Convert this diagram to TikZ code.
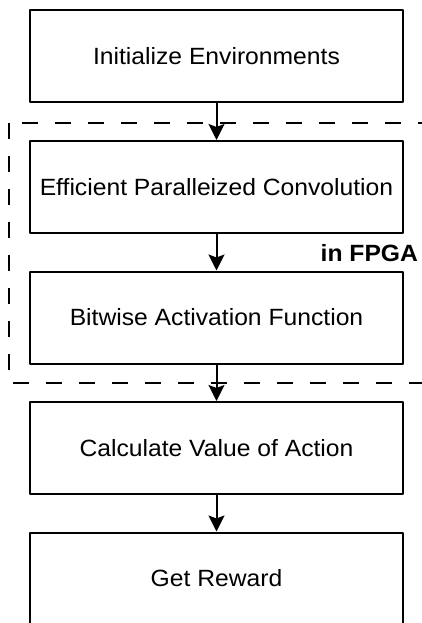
\documentclass[tikz,border=0pt]{standalone}
\usepackage{fontspec}
\setmainfont{Liberation Sans}[FakeStretch=1.05]
\usetikzlibrary{positioning,arrows.meta}

\begin{document}
\begin{tikzpicture}[x=1pt,y=-1pt,line join=round,>={Stealth[length=16pt,width=16pt,inset=3pt]},line width=2pt]
			\tikzset{stepbox/.style={draw,minimum width=373pt,minimum height=92pt,inner sep=0pt,font=\fontsize{23.5}{28}\selectfont},
				node distance=36.5pt}
			\useasboundingbox (0,0) rectangle (422,623);
			\node[stepbox] (init) at (216.5,56.5) {Initialize Environments};
			\node[stepbox,below=of init] (conv) {Efficient Paralleized Convolution};
			\node[stepbox,below=of conv] (act) {Bitwise Activation Function};
			\node[stepbox,below=of act] (value) {Calculate Value of Action};
			\node[stepbox,below=of value] (reward) {Get Reward};
			% FPGA region
			\draw[dash pattern=on 16pt off 17pt](9,123) rectangle (440,383);
			\node[anchor=base east,inner sep=0pt,font=\bfseries\fontsize{23.5}{28}\selectfont] (fpga) at (419,261) {in FPGA};
			\draw[->](init)--(conv);
			\draw[->](conv)--(act);
			\draw[->](act)--(value);
			\draw[->](value)--(reward);
		\end{tikzpicture}
\end{document}
